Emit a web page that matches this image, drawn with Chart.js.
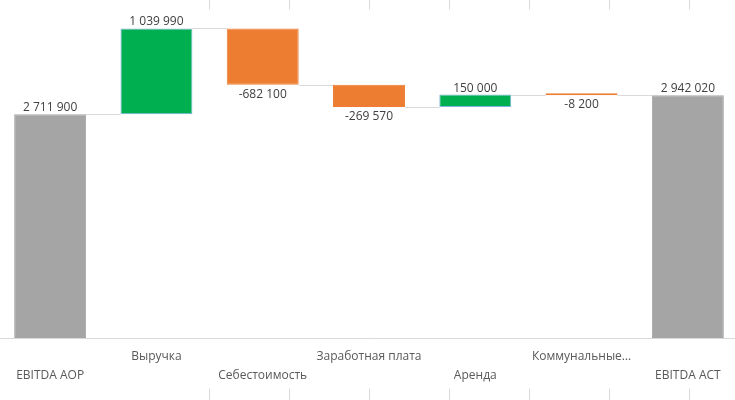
<!DOCTYPE html>
<html>
<head>
<meta charset="utf-8">
<script src="https://cdn.jsdelivr.net/npm/chart.js@4"></script>
<style>
  html, body { margin: 0; padding: 0; background: #ffffff; overflow: hidden; width: 735px; height: 400px; }
  #wrap { position: absolute; left: -3px; top: 0; width: 744px; height: 400px; }
</style>
</head>
<body>
<div id="wrap"><canvas id="c"></canvas></div>
<script>
// ---- data ----
const categories = ['EBITDA AOP', 'Выручка', 'Себестоимость', 'Заработная плата', 'Аренда', 'Коммунальные…', 'EBITDA ACT'];
const values = [2711900, 1039990, -682100, -269570, 150000, -8200, 2942020];
const isTotal = [true, false, false, false, false, false, true];
const yMin = 0;
const yMax = 4000000;

// ---- build floating ranges ----
const ranges = [];
let running = 0;
values.forEach((v, i) => {
  if (isTotal[i]) { ranges.push([0, v]); running = v; }
  else { ranges.push([running, running + v]); running += v; }
});
const colors = values.map((v, i) => isTotal[i] ? '#a5a5a5' : (v >= 0 ? '#00b050' : '#ed7d31'));
const borders = values.map((v, i) => isTotal[i] ? '#a5a5a5' : (v >= 0 ? '#7fb2e0' : '#ed7d31'));

function fmt(v) {
  const s = Math.abs(v).toString().replace(/\B(?=(\d{3})+(?!\d))/g, ' ');
  return (v < 0 ? '-' : '') + s;
}

const FONT = "'Open Sans', 'Segoe UI', sans-serif";

const connectors = {
  id: 'connectors',
  beforeDatasetsDraw(chart) {
    const ctx = chart.ctx, ys = chart.scales.y;
    const meta = chart.getDatasetMeta(0);
    ctx.save();
    ctx.strokeStyle = '#d9d9d9';
    ctx.lineWidth = 1;
    for (let i = 0; i < ranges.length - 1; i++) {
      const a = meta.data[i], b = meta.data[i + 1];
      const y = Math.round(ys.getPixelForValue(ranges[i][1])) + 0.5;
      ctx.beginPath();
      ctx.moveTo(a.x + a.width / 2, y);
      ctx.lineTo(b.x - b.width / 2, y);
      ctx.stroke();
    }
    ctx.restore();
  }
};

const valueLabels = {
  id: 'valueLabels',
  afterDatasetsDraw(chart) {
    const ctx = chart.ctx;
    const meta = chart.getDatasetMeta(0);
    ctx.save();
    ctx.font = '12px ' + FONT;
    ctx.fillStyle = '#404040';
    ctx.textAlign = 'center';
    ctx.textBaseline = 'alphabetic';
    values.forEach((v, i) => {
      const el = meta.data[i];
      const top = Math.min(el.y, el.base);
      const bot = Math.max(el.y, el.base);
      if (v >= 0) {
        ctx.fillText(fmt(v), el.x, top - 3);
      } else {
        ctx.fillText(fmt(v), el.x, bot + 13);
      }
    });
    ctx.restore();
  }
};

const sheetGrid = {
  id: 'sheetGrid',
  afterDraw(chart) {
    const ctx = chart.ctx;
    ctx.save();
    ctx.strokeStyle = '#d9d9d9';
    ctx.lineWidth = 1;
    for (let k = 0; k < 7; k++) {
      const x = 212 + 80 * k + 0.5;
      ctx.beginPath(); ctx.moveTo(x, 0); ctx.lineTo(x, 9.5); ctx.stroke();
      ctx.beginPath(); ctx.moveTo(x, 388.5); ctx.lineTo(x, 400); ctx.stroke();
    }
    ctx.restore();
  }
};

new Chart(document.getElementById('c'), {
  type: 'bar',
  data: {
    labels: categories,
    datasets: [{
      data: ranges,
      backgroundColor: colors,
      borderColor: borders,
      borderWidth: 1,
      borderSkipped: false,
      minBarLength: 2,
      barPercentage: 0.677,
      categoryPercentage: 1.0
    }]
  },
  options: {
    responsive: true,
    maintainAspectRatio: false,
    animation: false,
    layout: { padding: { top: 8, left: 0, right: 0, bottom: 0 } },
    plugins: { legend: { display: false }, tooltip: { enabled: false } },
    scales: {
      y: {
        display: false,
        min: yMin,
        max: yMax
      },
      x: {
        grid: { display: false, drawTicks: false },
        border: { display: true, color: '#d9d9d9', width: 1 },
        ticks: {
          autoSkip: false,
          maxRotation: 0,
          minRotation: 0,
          padding: 9,
          color: '#595959',
          font: { family: FONT, size: 12, lineHeight: 1.58 },
          callback: function (val, idx) {
            const l = categories[idx];
            return idx % 2 === 0 ? ['', l] : [l, ''];
          }
        },
        afterFit: function (scale) { scale.height = 62; }
      }
    }
  },
  plugins: [connectors, valueLabels, sheetGrid]
});
</script>
</body>
</html>
